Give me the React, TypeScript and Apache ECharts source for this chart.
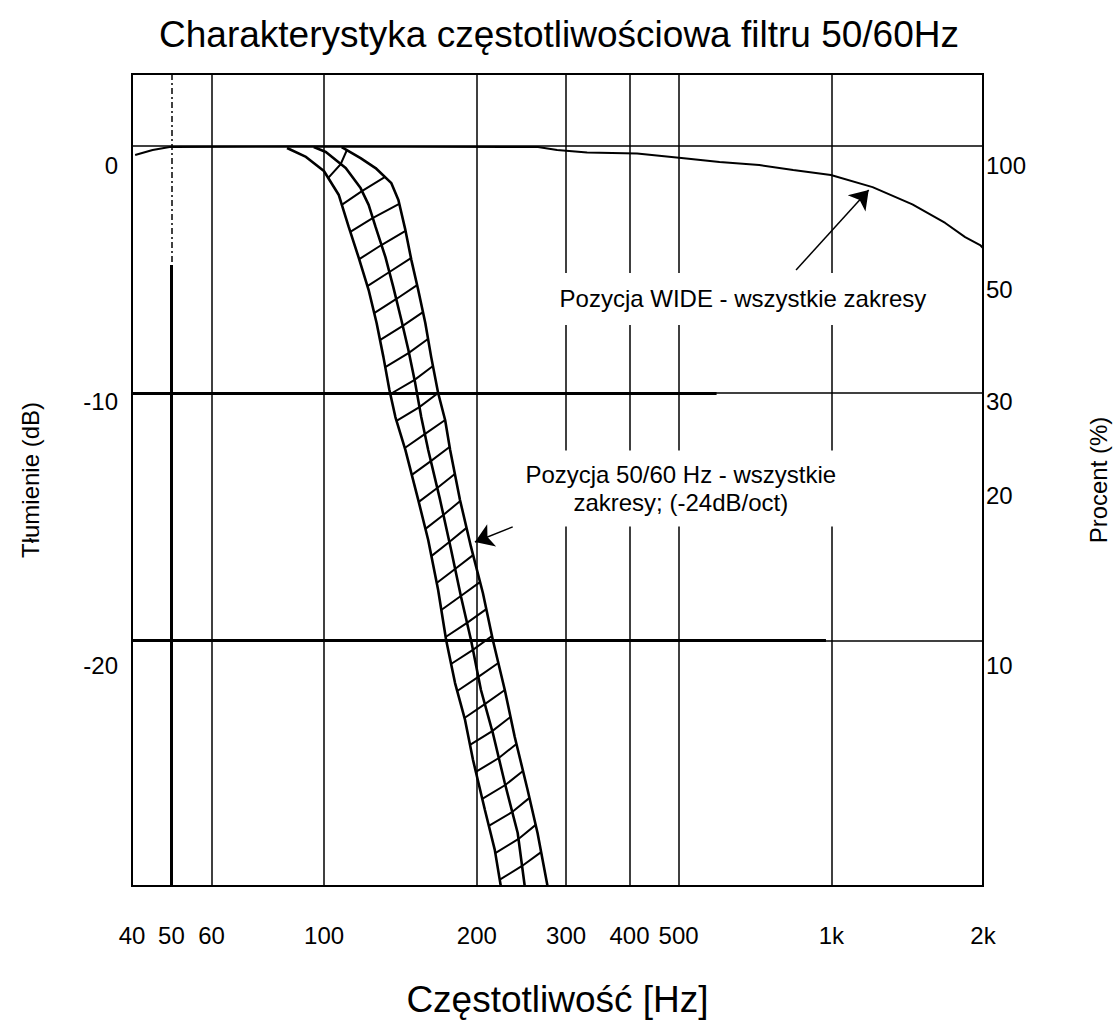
import React, { useEffect, useRef } from 'react';
import * as echarts from 'echarts';

const FONT = '"Liberation Sans", Arial, Helvetica, sans-serif';

// axis extents (frequency in Hz on a log scale, attenuation in dB)
const X_MIN_HZ = 41.8;
const X_MAX_HZ = 1991;
const Y_MIN_DB = -29.92;
const Y_MAX_DB = 2.89;

// tick labels
const xTickFreqs = [40, 50, 60, 100, 200, 300, 400, 500, 1000, 2000];
const xTickLabels = ['40', '50', '60', '100', '200', '300', '400', '500', '1k', '2k'];
const dbTickLabels = ['0', '-10', '-20'];
const dbTickLabelAt = [-0.79, -10.36, -21.03];
const pctTickLabels = ['100', '50', '30', '20', '10'];
const pctTickLabelAt = [-0.79, -5.8, -10.36, -14.16, -21.03];

// grid lines
const gridFreqs = [60, 100, 200, 300, 400, 500, 1000];
const gridDb = [0, -10, -20];
const line50Hz = 50;
const line50SplitDb = -4.83;
const heavyDb = [-10, -20];
const heavyEndHz = [594, 976];

// "WIDE" response
const wideCurve = [
  [42.4, -0.38], [45.9, -0.18], [49.6, -0.06], [90, -0.04], [264, -0.06], [288, -0.18],
  [330, -0.28], [414, -0.32], [512, -0.51], [602, -0.67], [721, -0.79], [841, -0.99],
  [998, -1.19], [1206, -1.68], [1445, -2.38], [1677, -3.13], [1836, -3.7], [1965, -4.02],
  [1991, -4.14],
];

// 50/60 Hz filter band: three boundary curves
const bandLeft = [
  [84.5, -0.1], [92.1, -0.46], [99.9, -1.03], [106.9, -2.0], [111.8, -3.29], [116.9, -4.51],
  [122.4, -5.84], [126.9, -7.17], [130.9, -8.55], [134.5, -9.88], [138.2, -10.97], [144.6, -12.3],
  [153.3, -14.32], [160.4, -15.94], [167.8, -17.96], [174.0, -19.98], [181.2, -21.72], [189.6, -23.21],
  [196.6, -24.83], [207.5, -26.85], [217.0, -28.46], [223.0, -29.92],
];
const bandMiddle = [
  [95.4, -0.06], [100.8, -0.26], [110.3, -0.91], [118.0, -1.72], [122.4, -2.4], [126.3, -3.29],
  [132.1, -4.51], [136.9, -5.72], [142.0, -7.05], [146.6, -8.26], [151.2, -9.6], [155.4, -10.97],
  [160.4, -12.3], [169.3, -14.32], [178.0, -16.34], [186.2, -18.24], [194.8, -19.98], [203.8, -22.0],
  [215.1, -23.74], [227.1, -25.76], [240.8, -27.78], [248.6, -29.92],
];
const bandRight = [
  [108.3, -0.06], [118.0, -0.51], [126.3, -0.91], [135.7, -1.52], [140.1, -2.2], [144.6, -3.41],
  [148.6, -4.63], [153.3, -5.84], [158.3, -7.17], [162.6, -8.55], [167.8, -10.0], [173.2, -11.09],
  [177.2, -12.3], [185.3, -14.32], [194.8, -16.22], [205.6, -18.08], [215.1, -19.98], [227.1, -22.0],
  [237.6, -23.9], [251.9, -26.04], [263.5, -27.78], [275.7, -29.92],
];
// cross-hatching rungs (left -> middle -> right)
const hatchRungs = [
  [[101.9, -1.31], [107.8, -0.75], [110.9, -0.18]],
  [[108.3, -2.4], [118.7, -1.84], [131.9, -1.27]],
  [[112.6, -3.49], [124.6, -2.93], [140.6, -2.36]],
  [[117.3, -4.59], [129.7, -4.02], [144.7, -3.45]],
  [[121.7, -5.68], [134.5, -5.11], [148.3, -4.55]],
  [[125.5, -6.77], [138.8, -6.2], [152.5, -5.64]],
  [[128.8, -7.86], [142.9, -7.29], [156.6, -6.73]],
  [[132.0, -8.95], [146.9, -8.38], [160.2, -7.82]],
  [[135.1, -10.04], [150.8, -9.47], [163.9, -8.91]],
  [[138.9, -11.13], [154.1, -10.57], [167.8, -10.0]],
  [[144.2, -12.22], [157.9, -11.66], [173.2, -11.09]],
  [[148.9, -13.31], [162.3, -12.75], [176.7, -12.18]],
  [[153.7, -14.4], [167.1, -13.84], [181.0, -13.27]],
  [[158.4, -15.49], [171.8, -14.93], [185.5, -14.36]],
  [[162.7, -16.59], [176.5, -16.02], [190.9, -15.45]],
  [[166.7, -17.68], [181.2, -17.11], [196.6, -16.55]],
  [[170.2, -18.77], [186.0, -18.2], [202.9, -17.64]],
  [[173.6, -19.86], [191.3, -19.29], [208.8, -18.73]],
  [[177.9, -20.95], [196.5, -20.38], [214.2, -19.82]],
  [[183.0, -22.04], [201.4, -21.47], [220.5, -20.91]],
  [[189.1, -23.13], [207.4, -22.57], [227.1, -22.0]],
  [[193.9, -24.22], [214.5, -23.66], [233.0, -23.09]],
  [[199.1, -25.31], [221.0, -24.75], [239.4, -24.18]],
  [[205.0, -26.4], [227.6, -25.84], [246.6, -25.27]],
  [[211.2, -27.49], [234.9, -26.93], [254.0, -26.36]],
  [[217.5, -28.59], [241.7, -28.02], [261.3, -27.45]],
  [[222.0, -29.66], [245.6, -29.11], [267.8, -28.55]],
];

// annotations
const annotationTexts = [
  'Pozycja WIDE - wszystkie zakresy',
  'Pozycja 50/60 Hz - wszystkie\nzakresy; (-24dB/oct)',
];
const annotationAt = [[669.5, -6.2], [504.9, -13.86]];
const arrowFrom = [[852, -5.03], [235.4, -15.41]];
const arrowTo = [[1185, -1.8], [198.3, -16.02]];

const lg = (v: number) => Math.log10(v);
const xMin = lg(X_MIN_HZ);
const xMax = lg(X_MAX_HZ);
const clampX = (v: number) => Math.min(xMax, Math.max(xMin, v));
const pt = (p: number[]) => [clampX(lg(p[0])), p[1]];
const nearest = (values: number[], labels: string[], v: number) => {
  let bi = 0;
  let bd = Infinity;
  values.forEach((x, i) => {
    const d = Math.abs(x - v);
    if (d < bd) { bd = d; bi = i; }
  });
  return bd < 1e-3 ? labels[bi] : '';
};

function buildOption() {
  const xLabelValues = xTickFreqs.map((f) => clampX(lg(f)));
  const thin = { color: '#000', width: 1.5, opacity: 1 };
  const gridLinesData: any[] = [
    ...gridFreqs.map((f) => ({ coords: [[lg(f), Y_MAX_DB], [lg(f), Y_MIN_DB]], lineStyle: thin })),
    { coords: [[lg(line50Hz), Y_MAX_DB], [lg(line50Hz), line50SplitDb]], lineStyle: { ...thin, type: [6, 3, 2, 3] } },
    { coords: [[lg(line50Hz), line50SplitDb], [lg(line50Hz), Y_MIN_DB]], lineStyle: { ...thin, width: 3 } },
    ...gridDb.map((d) => ({ coords: [[xMin, d], [xMax, d]], lineStyle: thin })),
    ...heavyDb.map((d, i) => ({ coords: [[xMin, d], [lg(heavyEndHz[i]), d]], lineStyle: { ...thin, width: 3 } })),
  ];
  const curve = (data: number[][], width: number) => ({
    type: 'line',
    data: data.map(pt),
    showSymbol: false,
    symbol: 'none',
    silent: true,
    z: 3,
    lineStyle: { color: '#000', width },
  });
  const textStyle = { color: '#000', fontFamily: FONT };
  const pads = [[12, 14], [10, 7]];
  return {
    animation: false,
    backgroundColor: '#fff',
    title: {
      text: 'Charakterystyka częstotliwościowa filtru 50/60Hz',
      left: 'center',
      top: 11,
      textStyle: { ...textStyle, fontSize: 37, fontWeight: 'normal' },
    },
    grid: {
      left: 132, top: 74, width: 856, height: 812,
      show: true, borderColor: '#000', borderWidth: 2, backgroundColor: 'transparent',
    },
    xAxis: {
      type: 'value',
      min: xMin,
      max: xMax,
      axisLine: { show: false },
      axisTick: { show: false },
      splitLine: { show: false },
      axisLabel: {
        customValues: xLabelValues,
        showMinLabel: true,
        showMaxLabel: true,
        formatter: (v: number) => nearest(xLabelValues, xTickLabels, v),
        margin: 37,
        fontSize: 24,
        ...textStyle,
      },
      name: 'Częstotliwość [Hz]',
      nameLocation: 'middle',
      nameGap: 95,
      nameTextStyle: { ...textStyle, fontSize: 37 },
    },
    yAxis: [
      {
        type: 'value',
        position: 'left',
        min: Y_MIN_DB,
        max: Y_MAX_DB,
        axisLine: { show: false },
        axisTick: { show: false },
        splitLine: { show: false },
        axisLabel: {
          customValues: dbTickLabelAt,
          showMinLabel: true,
          showMaxLabel: true,
          formatter: (v: number) => nearest(dbTickLabelAt, dbTickLabels, v),
          margin: 14,
          fontSize: 24,
          ...textStyle,
        },
        name: 'Tłumienie (dB)',
        nameLocation: 'middle',
        nameGap: 90,
        nameTextStyle: { ...textStyle, fontSize: 24 },
      },
      {
        type: 'value',
        position: 'right',
        min: Y_MIN_DB,
        max: Y_MAX_DB,
        axisLine: { show: false },
        axisTick: { show: false },
        splitLine: { show: false },
        axisLabel: {
          customValues: pctTickLabelAt,
          showMinLabel: true,
          showMaxLabel: true,
          formatter: (v: number) => nearest(pctTickLabelAt, pctTickLabels, v),
          margin: 3,
          fontSize: 24,
          ...textStyle,
        },
        name: 'Procent (%)',
        nameLocation: 'middle',
        nameGap: 103,
        nameTextStyle: { ...textStyle, fontSize: 24 },
      },
    ],
    series: [
      {
        type: 'lines',
        coordinateSystem: 'cartesian2d',
        silent: true,
        z: 1,
        lineStyle: { color: '#000', width: 1.5, opacity: 1, curveness: 0 },
        data: gridLinesData,
      },
      curve(wideCurve, 2),
      curve(bandLeft, 2.6),
      curve(bandMiddle, 2.6),
      curve(bandRight, 2.6),
      {
        type: 'lines',
        coordinateSystem: 'cartesian2d',
        polyline: true,
        silent: true,
        z: 3,
        lineStyle: { color: '#000', width: 2, opacity: 1, curveness: 0 },
        data: hatchRungs.map((r) => ({ coords: r.map(pt) })),
      },
      {
        type: 'lines',
        coordinateSystem: 'cartesian2d',
        silent: true,
        z: 4,
        symbol: ['none', 'arrow'],
        symbolSize: [7, 18],
        lineStyle: { color: '#000', width: 1.5, opacity: 1, curveness: 0 },
        data: arrowFrom.map((p, i) => ({ coords: [pt(p), pt(arrowTo[i])] })),
      },
      {
        type: 'scatter',
        silent: true,
        z: 10,
        symbolSize: 1,
        itemStyle: { color: 'rgba(0,0,0,0)', opacity: 0 },
        data: annotationAt.map((p, i) => ({
          value: pt(p),
          label: {
            show: true,
            position: 'inside',
            formatter: annotationTexts[i],
            padding: pads[i],
            backgroundColor: '#fff',
            align: 'center',
            lineHeight: 28,
            fontSize: 24,
            opacity: 1,
            ...textStyle,
          },
        })),
      },
    ],
  };
}

export default function App() {
  const ref = useRef<HTMLDivElement>(null);
  useEffect(() => {
    if (!ref.current) return;
    const chart = echarts.init(ref.current, undefined, { renderer: 'svg' });
    chart.setOption(buildOption() as any);
    return () => chart.dispose();
  }, []);
  return (
    <div
      ref={ref}
      style={{ position: 'fixed', left: 0, top: 0, width: 1118, height: 1034, background: '#fff' }}
    />
  );
}
